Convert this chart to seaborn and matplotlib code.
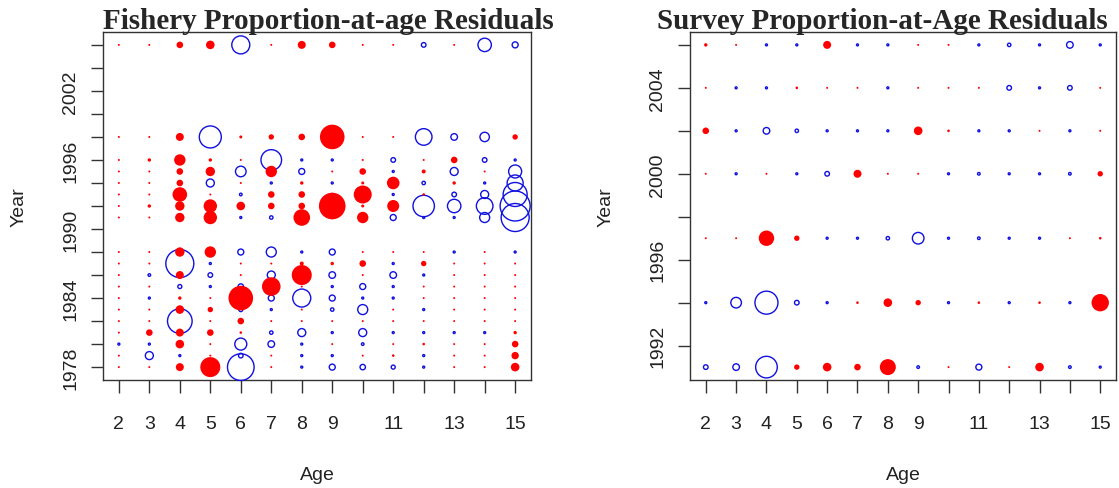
import matplotlib
matplotlib.use("Agg")
import matplotlib.pyplot as plt
import pandas as pd
import seaborn as sns

# ---------------- data ----------------
ages = list(range(2, 16))
age_tick_labels = ['2', '3', '4', '5', '6', '7', '8', '9', '', '11', '', '13', '', '15']

fishery_years = [1978, 1979, 1980, 1981, 1982, 1983, 1984, 1985, 1986, 1987, 1988,
                 1991, 1992, 1993, 1994, 1995, 1996, 1998, 2006]
# residuals by year (rows) and age 2..15 (columns); + = red filled, - = blue open
fishery_resid = [
    [0.2, 0.2, 0.8, 2.0, -2.66, 0.2, -0.2, -0.6, -0.54, -0.4, -0.2, 0.2, 0.2, 0.86],
    [0.2, -0.8, -0.2, 0.2, -0.46, 0.2, -0.2, -0.2, 0.2, 0.26, -0.2, 0.2, 0.2, 0.74],
    [-0.2, -0.2, 0.86, 0.2, -1.2, -0.66, -0.2, 0.2, -0.26, 0.2, 0.26, 0.2, 0.2, 0.66],
    [0.2, 0.66, 0.8, 0.66, 0.26, -0.34, -0.8, -0.2, -0.8, -0.2, -0.2, -0.2, -0.2, 0.34],
    [0.2, 0.2, -2.46, 0.2, 0.66, 0.2, 0.2, 0.2, 0.2, 0.2, 0.2, 0.2, 0.2, 0.2],
    [0.2, 0.2, 0.86, 0.54, -0.4, -0.2, 0.2, -0.34, -1.0, 0.2, -0.2, 0.2, 0.2, 0.2],
    [0.2, -0.2, 0.34, 0.2, 2.46, -0.6, -1.8, -0.6, -0.2, -0.2, 0.2, 0.2, 0.2, 0.2],
    [0.2, 0.2, -0.4, -0.2, -0.54, 1.86, 0.2, -0.2, -0.6, -0.2, 0.2, 0.2, 0.2, 0.2],
    [0.2, -0.26, 0.8, -0.46, 0.2, -0.8, 2.0, -0.66, 0.2, -0.66, -0.2, 0.2, 0.2, 0.2],
    [0.2, 0.2, -2.8, -0.2, 0.2, 0.2, 0.4, 0.34, 0.66, -0.2, 0.54, 0.2, 0.2, 0.2],
    [0.2, 0.2, 0.94, 1.14, -0.6, -1.0, -0.2, -0.6, 0.2, 0.2, 0.2, -0.2, 0.2, -0.2],
    [0.2, 0.2, 0.94, 1.34, -0.2, -0.34, 1.66, -0.2, 1.14, -0.6, -0.2, -0.2, -1.0, -2.8],
    [0.2, 0.34, 0.94, 1.34, 0.86, 0.66, 0.66, 2.66, 0.3, 1.2, -2.14, -1.34, -1.66, -3.0],
    [0.2, 0.2, 1.46, 0.2, -0.26, 0.66, 0.66, -0.2, 1.8, -0.2, 0.26, -0.46, -0.8, -2.4],
    [0.2, 0.2, 0.66, -0.8, 0.2, -0.2, 0.34, -0.2, 0.3, 1.26, -0.34, 0.34, -0.2, -1.6],
    [0.2, 0.2, 0.66, 0.94, -1.06, 1.14, -0.6, 0.2, 0.66, -0.2, 0.4, -0.8, 0.2, -1.3],
    [0.2, 0.34, 1.14, 0.34, 0.2, -2.06, -0.2, -0.2, 0.2, -0.46, 0.2, 0.66, -0.46, -0.2],
    [0.2, 0.2, 0.8, -2.2, 0.3, 0.54, 0.66, 2.46, 0.2, 0.2, -1.66, -0.66, -0.94, 0.54],
    [0.2, 0.2, 0.66, 0.86, -1.8, 0.2, 0.8, 0.66, 0.2, 0.2, -0.46, 0.2, -1.34, -0.6],
]
fishery_year_ticks = list(range(1978, 2007, 2))
fishery_year_labels = ['1978', '', '', '1984', '', '', '1990', '', '', '1996', '', '', '2002', '', '']

survey_years = [1991, 1994, 1997, 2000, 2002, 2004, 2006]
survey_resid = [
    [-0.46, -0.66, -2.16, 0.54, 0.86, 0.66, 1.6, -0.26, 0.2, -0.6, 0.2, 0.86, -0.26, -0.2],
    [-0.2, -1.06, -2.3, -0.46, -0.2, 0.26, 0.86, 0.54, -0.2, 0.26, -0.2, 0.26, -0.2, 1.74],
    [0.2, 0.2, 1.54, 0.54, -0.2, -0.2, -0.34, -1.16, -0.2, -0.26, -0.2, -0.2, 0.2, 0.26],
    [0.2, -0.2, 0.2, -0.2, -0.46, 0.8, 0.2, 0.2, -0.2, -0.26, -0.2, -0.2, -0.26, 0.54],
    [0.66, -0.2, -0.66, -0.34, -0.2, -0.2, -0.2, 0.86, 0.26, -0.2, -0.2, 0.2, -0.2, 0.2],
    [0.2, -0.2, -0.2, 0.26, 0.2, 0.2, -0.2, 0.2, 0.2, 0.2, -0.46, -0.2, -0.46, 0.2],
    [0.34, 0.2, -0.2, -0.2, 0.8, -0.2, -0.2, 0.2, 0.2, -0.2, -0.34, -0.2, -0.66, -0.2],
]
survey_year_ticks = list(range(1992, 2007, 2))
survey_year_labels = ['1992', '', '1996', '', '2000', '', '2004', '']

titles = ['Fishery Proportion-at-age Residuals', 'Survey Proportion-at-Age Residuals']

# ---------------- style ----------------
sns.set_style("ticks")
plt.rcParams['font.family'] = ['Liberation Sans', 'DejaVu Sans']

W, H = 1119, 489
fig = plt.figure(figsize=(W / 100, H / 100), dpi=100)
ax1 = fig.add_axes([103 / W, 1 - 381 / H, 428 / W, 348 / H])
ax2 = fig.add_axes([690 / W, 1 - 381 / H, 426 / W, 348 / H])

SMAX = 2000.0
K = 7.2  # bubble diameter (pt) per unit residual


def long_form(years, resid):
    rows = []
    for y, r in zip(years, resid):
        for a, v in zip(ages, r):
            rows.append((a, y, v))
    df = pd.DataFrame(rows, columns=['age', 'year', 'resid'])
    df['s'] = (K * df['resid'].abs()) ** 2
    return df


def draw(ax, df):
    neg = df[df['resid'] < 0]
    pos = df[df['resid'] > 0]
    sns.scatterplot(data=neg, x='age', y='year', size='s', sizes=(0, SMAX),
                    size_norm=(0, SMAX), color='#0000ff', facecolor='none',
                    edgecolor='#1010e0', linewidth=1.0, legend=False, ax=ax,
                    zorder=3, clip_on=False)
    sns.scatterplot(data=pos, x='age', y='year', size='s', sizes=(0, SMAX),
                    size_norm=(0, SMAX), color='#ff0000', edgecolor='none',
                    linewidth=0, legend=False, ax=ax, zorder=4, clip_on=False)


draw(ax1, long_form(fishery_years, fishery_resid))
draw(ax2, long_form(survey_years, survey_resid))

axis_col = '#333333'
for ax, yt, yl, ylim in [
    (ax1, fishery_year_ticks, fishery_year_labels, (1976.88, 2007.12)),
    (ax2, survey_year_ticks, survey_year_labels, (1990.4, 2006.6)),
]:
    ax.set_xlim(1.48, 15.52)
    ax.set_ylim(*ylim)
    ax.set_xticks(ages)
    ax.set_xticklabels(age_tick_labels)
    ax.set_yticks(yt)
    ax.set_yticklabels(yl, rotation=90, va='center')
    ax.tick_params(axis='both', length=9, width=1.0, color=axis_col,
                   labelsize=14, labelcolor='#222222')
    ax.tick_params(axis='x', pad=16)
    ax.tick_params(axis='y', pad=8)
    for sp in ax.spines.values():
        sp.set_visible(True)
        sp.set_color(axis_col)
        sp.set_linewidth(1.0)
    ax.set_xlabel('Age', fontsize=14, color='#222222', labelpad=25)
    ax.set_ylabel('Year', fontsize=14, color='#222222', labelpad=25)
    ax.grid(False)

fig.text(328 / W, 1 - 29 / H, titles[0], ha='center', va='baseline',
         family=['Liberation Serif', 'DejaVu Serif'], fontweight='bold', fontsize=21)
fig.text(882 / W, 1 - 29 / H, titles[1], ha='center', va='baseline',
         family=['Liberation Serif', 'DejaVu Serif'], fontweight='bold', fontsize=21)

fig.savefig('out.png', dpi=100, facecolor='white')
